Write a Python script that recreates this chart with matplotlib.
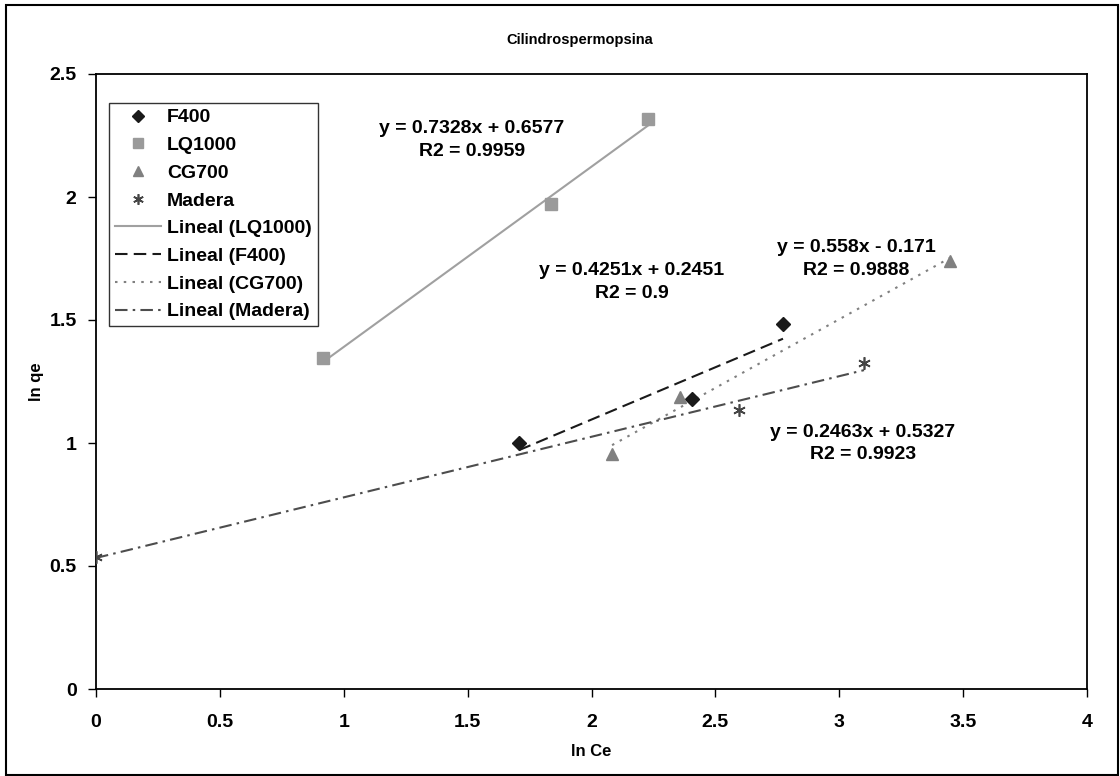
import matplotlib
matplotlib.use('Agg')
import matplotlib.pyplot as plt
import numpy as np
from matplotlib.patches import Rectangle
from matplotlib.ticker import MultipleLocator

plt.rcParams['font.family'] = ['Liberation Sans', 'DejaVu Sans']
plt.rcParams['font.weight'] = 'bold'

# data (ln Ce, ln qe)
f400_x = [1.707, 2.406, 2.773]
f400_y = [1.000, 1.179, 1.485]
lq1000_x = [0.916, 1.837, 2.228]
lq1000_y = [1.346, 1.972, 2.317]
cg700_x = [2.083, 2.357, 3.447]
cg700_y = [0.955, 1.187, 1.740]
madera_x = [0.0, 2.595, 3.100]
madera_y = [0.537, 1.134, 1.325]

# trend lines as printed on the chart
trend_names = ['LQ1000', 'F400', 'CG700', 'Madera']
trend_slope = [0.7328, 0.4251, 0.558, 0.2463]
trend_icept = [0.6577, 0.2451, -0.171, 0.5327]
trend_text = ['y = 0.7328x + 0.6577\nR2 = 0.9959',
              'y = 0.4251x + 0.2451\nR2 = 0.9',
              'y = 0.558x - 0.171\nR2 = 0.9888',
              'y = 0.2463x + 0.5327\nR2 = 0.9923']
text_pos = [(1.518, 2.232), (2.163, 1.654), (3.070, 1.748), (3.095, 0.998)]

fig = plt.figure(figsize=(11.2, 7.76), dpi=100)
ax = fig.add_axes([96 / 1120, 87 / 776, 991 / 1120, 615 / 776])

# outer chart border
fig.patches.append(Rectangle((6 / 1120, 1 / 776), 1112 / 1120, 770 / 776,
                             transform=fig.transFigure, fill=False,
                             edgecolor='black', linewidth=1.5))

h_f400, = ax.plot(f400_x, f400_y, linestyle='none', marker='D',
                  markersize=7, color='#1a1a1a', label='F400', zorder=4)
h_lq, = ax.plot(lq1000_x, lq1000_y, linestyle='none', marker='s',
                markersize=8, color='#9a9a9a', label='LQ1000', zorder=4)
h_cg, = ax.plot(cg700_x, cg700_y, linestyle='none', marker='^',
                markersize=9, color='#808080', label='CG700', zorder=4)
h_mad, = ax.plot(madera_x, madera_y, linestyle='none', marker=(6, 2, 0),
                 markersize=9, markeredgewidth=1.2, color='#454545',
                 label='Madera', zorder=4)

series_x = {'LQ1000': lq1000_x, 'F400': f400_x, 'CG700': cg700_x,
            'Madera': madera_x}
styles = {
    'LQ1000': dict(color='#a0a0a0', linewidth=1.5, linestyle='-'),
    'F400': dict(color='#1a1a1a', linewidth=1.5, dashes=(6, 3)),
    'CG700': dict(color='#808080', linewidth=1.5, dashes=(1.2, 3)),
    'Madera': dict(color='#4d4d4d', linewidth=1.5, dashes=(6, 2.5, 1.2, 2.5)),
}

line_handles = []
for name, m, b in zip(trend_names, trend_slope, trend_icept):
    xs = np.array([min(series_x[name]), max(series_x[name])])
    h, = ax.plot(xs, m * xs + b, label='Lineal ({})'.format(name),
                 zorder=3, **styles[name])
    line_handles.append(h)

for txt, (tx, ty) in zip(trend_text, text_pos):
    ax.text(tx, ty, txt, ha='center', va='center', multialignment='center',
            fontsize=14, fontweight='bold', linespacing=1.45)

ax.set_xlim(0, 4)
ax.set_ylim(0, 2.5)
ax.xaxis.set_major_locator(MultipleLocator(0.5))
ax.yaxis.set_major_locator(MultipleLocator(0.5))
fmt = plt.FuncFormatter(lambda v, p: '{:g}'.format(v))
ax.xaxis.set_major_formatter(fmt)
ax.yaxis.set_major_formatter(fmt)
ax.tick_params(direction='out', length=6, width=1, labelsize=14)
ax.tick_params(axis='x', pad=12)
ax.tick_params(axis='y', pad=8)
for s in ax.spines.values():
    s.set_linewidth(1.3)

ax.set_xlabel('ln Ce', fontsize=12, fontweight='bold', labelpad=9)
ax.set_ylabel('ln qe', fontsize=12, fontweight='bold', labelpad=4)
fig.text(580 / 1120, 736 / 776, 'Cilindrospermopsina', ha='center',
         va='center', fontsize=10.5, fontweight='bold')

leg = ax.legend(handles=[h_f400, h_lq, h_cg, h_mad] + line_handles,
                loc='upper left', bbox_to_anchor=(0.013, 0.953),
                borderaxespad=0, fontsize=14, frameon=True, fancybox=False,
                handlelength=2.4, handletextpad=0.3, labelspacing=0.52,
                borderpad=0.3, markerscale=0.85)
leg.get_frame().set_edgecolor('black')
leg.get_frame().set_linewidth(1)

fig.savefig('out.png', dpi=100)
